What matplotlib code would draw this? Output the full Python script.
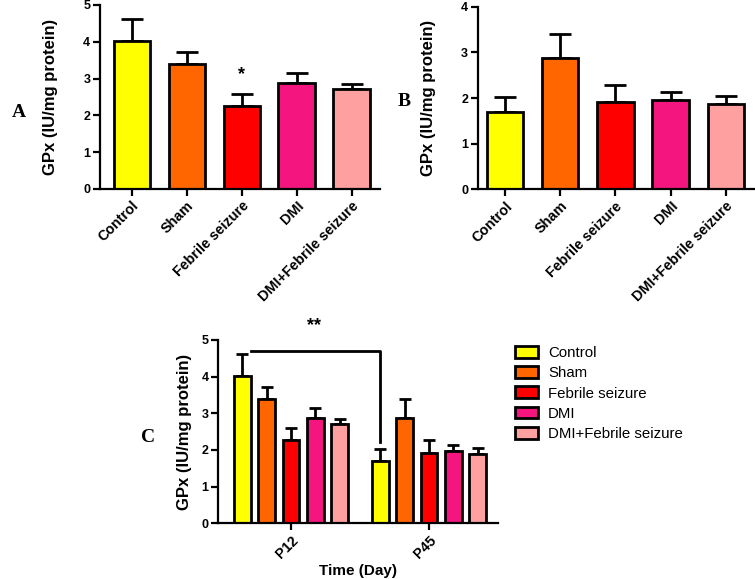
import numpy as np
import matplotlib.pyplot as plt

plt.rcParams['font.family'] = ['Liberation Sans', 'DejaVu Sans']

groups = ['Control', 'Sham', 'Febrile seizure', 'DMI', 'DMI+Febrile seizure']
colors = ['#FFFF00', '#FF6600', '#FF0000', '#F5157F', '#FFA0A0']

# P12 (panel A)
p12_mean = [4.02, 3.39, 2.26, 2.88, 2.71]
p12_sem = [0.60, 0.34, 0.33, 0.26, 0.13]
# P45 (panel B)
p45_mean = [1.69, 2.88, 1.92, 1.96, 1.88]
p45_sem = [0.34, 0.52, 0.36, 0.18, 0.17]

days = ['P12', 'P45']

ylab = 'GPx (IU/mg protein)'
lw = 2.0


def style(ax):
    for s in ['top', 'right']:
        ax.spines[s].set_visible(False)
    for s in ['left', 'bottom']:
        ax.spines[s].set_linewidth(1.6)
    ax.tick_params(width=1.6, length=5, pad=2)
    ax.tick_params(axis='y', labelsize=9)
    ax.tick_params(axis='x', labelsize=10.3)
    for t in ax.get_yticklabels() + ax.get_xticklabels():
        t.set_fontweight('bold')


def panel(ax, means, sems, ymax):
    x = np.arange(len(groups))
    ax.bar(x, means, width=0.66, color=colors, edgecolor='black', linewidth=lw, zorder=2)
    ax.errorbar(x, means, yerr=[np.zeros(len(sems)), sems], fmt='none',
                ecolor='black', elinewidth=lw, capsize=8, capthick=lw, zorder=1)
    ax.set_ylim(0, ymax)
    ax.set_yticks(range(ymax + 1))
    ax.set_xticks(x)
    ax.set_xticklabels(groups, rotation=45, ha='right', rotation_mode='anchor')
    ax.set_ylabel(ylab, fontsize=12, fontweight='bold', labelpad=18)
    style(ax)


fig = plt.figure(figsize=(7.55, 5.79), dpi=100)

axA = fig.add_axes([0.1325, 0.6736, 0.3709, 0.3178])
panel(axA, p12_mean, p12_sem, 5)
axA.set_xlim(-0.58, 4.52)
axA.text(2, 3.1, '*', ha='center', va='center', fontsize=13, fontweight='bold')

axB = fig.add_axes([0.633, 0.673, 0.367, 0.3154])
panel(axB, p45_mean, p45_sem, 4)
axB.set_xlim(-0.49, 4.53)

# panel C - grouped
axC = fig.add_axes([0.2891, 0.0962, 0.3705, 0.3166])
step = 0.176
bw = 0.123
gx = np.arange(len(days))
for i, g in enumerate(groups):
    vals = [p12_mean[i], p45_mean[i]]
    errs = [p12_sem[i], p45_sem[i]]
    pos = gx + (i - 2) * step
    axC.bar(pos, vals, width=bw, color=colors[i], edgecolor='black',
            linewidth=lw, label=g, zorder=2)
    axC.errorbar(pos, vals, yerr=[[0, 0], errs], fmt='none', ecolor='black',
                 elinewidth=lw, capsize=4, capthick=lw, zorder=1)
axC.set_xlim(-0.527, 1.5)
axC.set_ylim(0, 5)
axC.set_yticks(range(6))
axC.set_xticks(gx)
axC.set_xticklabels(days, rotation=45, ha='right', rotation_mode='anchor')
axC.set_ylabel(ylab, fontsize=12, fontweight='bold', labelpad=7)
axC.set_xlabel('Time (Day)', fontsize=11, fontweight='bold', labelpad=2)
style(axC)

# significance bracket
x0 = -2 * step + 0.06
x1 = 1 - 2 * step
axC.plot([x0, x1, x1], [4.69, 4.69, 2.22], color='black', lw=lw, clip_on=False)
axC.text(0.17, 5.4, '**', ha='center', va='center', fontsize=13,
         fontweight='bold', clip_on=False)

leg = axC.legend(loc='upper left', bbox_to_anchor=(1.04, 1.0), frameon=False,
                 fontsize=10.8, handlelength=1.5, handleheight=0.85,
                 labelspacing=0.4, handletextpad=0.7, borderaxespad=0)

fig.text(0.016, 0.805, 'A', fontsize=14, fontweight='bold', family='Liberation Serif',
         ha='left', va='center')
fig.text(0.527, 0.824, 'B', fontsize=14, fontweight='bold', family='Liberation Serif',
         ha='left', va='center')
fig.text(0.196, 0.244, 'C', fontsize=14, fontweight='bold', family='Liberation Serif',
         ha='center', va='center')

fig.savefig('out.png', dpi=100)
